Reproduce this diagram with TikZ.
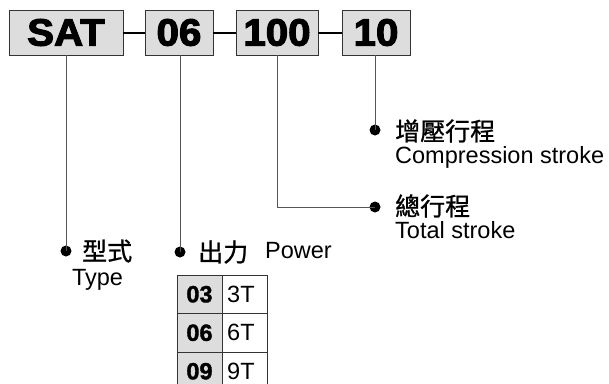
\documentclass[tikz,border=0pt]{standalone}
\usepackage{fontspec}
\setmainfont{Liberation Sans}
\newfontfamily\cjk[FakeBold=1]{Noto Sans CJK TC}
\newfontfamily\blackfont[FakeStretch=1.06,FakeBold=3]{Liberation Sans Bold}
\newfontfamily\cellfont[FakeBold=1.5]{Liberation Sans Bold}
\definecolor{boxgray}{HTML}{DDDDDD}
\definecolor{linegray}{HTML}{555555}
\begin{document}
\begin{tikzpicture}[x=1pt,y=-1pt,
  codebox/.style={draw=black!80, line width=0.9pt, fill=boxgray, minimum height=45pt, inner sep=0pt, font=\blackfont\fontsize{38}{38}\selectfont},
  link/.style={line width=2pt, black},
  lead/.style={line width=1pt, linegray},
  dotnode/.style={circle, fill=black, minimum size=11pt, inner sep=0pt},
  cjklabel/.style={anchor=west, inner sep=0pt, font=\cjk\fontsize{25}{25}\selectfont},
  enlabel/.style={anchor=base west, inner sep=0pt, font=\fontsize{23.5}{23.5}\selectfont},
  cellgray/.style={draw=black!80, line width=0.9pt, fill=boxgray, minimum width=45pt, minimum height=38.5pt, inner sep=0pt, font=\cellfont\fontsize{23.5}{23.5}\selectfont},
  cellwhite/.style={draw=black!80, line width=0.9pt, fill=white, minimum width=45pt, minimum height=38.5pt, inner sep=0pt}
]
\useasboundingbox (0,0) rectangle (609,383);
% code boxes
\node[codebox, minimum width=114pt] (sat) at (66,32.5) {SAT};
\node[codebox, minimum width=68pt] (b06) at (179,32.5) {06};
\node[codebox, minimum width=82pt] (b100) at (277,32.5) {100};
\node[codebox, minimum width=68pt] (b10) at (376,32.5) {10};
\draw[link] (sat.east) -- (b06.west);
\draw[link] (b06.east) -- (b100.west);
\draw[link] (b100.east) -- (b10.west);
% dots
\node[dotnode] (dtype) at (66,251) {};
\node[dotnode] (dpow) at (180,252) {};
\node[dotnode] (dtot) at (375,207) {};
\node[dotnode] (dcomp) at (375,130) {};
\coordinate (c100) at (277,207);
% leads
\draw[lead] (sat.south) -- (dtype.center);
\draw[lead] (b06.south -| dpow) -- (dpow.center);
\draw[lead] (b100.south) -- (c100) -- (dtot.center);
\draw[lead] (b10.south -| dcomp) -- (dcomp.center);
% labels
\node[cjklabel] (lcomp) at (395,131) {增壓行程};
\node[enlabel] (ecomp) at (395,163) {Compression stroke};
\node[cjklabel] (ltot) at (395,206) {總行程};
\node[enlabel] (etot) at (395,238) {Total stroke};
\node[cjklabel] (ltype) at (82,251) {型式};
\node[enlabel, anchor=base] (etype) at (97.5,285) {Type};
\node[cjklabel] (lpow) at (198,252) {出力};
\node[enlabel] (epow) at (265,258) {Power};
% table
\node[cellgray] (t1a) at (199.5,294.25) {03};
\node[cellwhite] (t1b) at (244.5,294.25) {};
\node[cellgray] (t2a) at (199.5,332.75) {06};
\node[cellwhite] (t2b) at (244.5,332.75) {};
\node[cellgray] (t3a) at (199.5,371.25) {09};
\node[cellwhite] (t3b) at (244.5,371.25) {};
\node[enlabel] (v1) at (227,302) {3T};
\node[enlabel] (v2) at (227,340.5) {6T};
\node[enlabel] (v3) at (227,379) {9T};
\end{tikzpicture}
\end{document}
